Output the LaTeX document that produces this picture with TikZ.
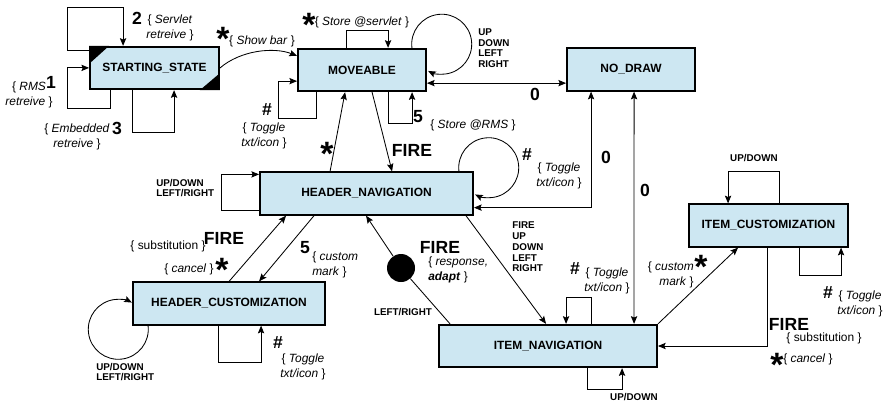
\documentclass[tikz,border=0pt]{standalone}
\usepackage{fontspec}
\setmainfont{Liberation Sans}
\usepackage{xcolor}
\usepackage{tikz}
\usetikzlibrary{arrows, arrows.meta, positioning, calc}
\definecolor{stateblue}{RGB}{205,231,242}
\tikzset{
  statebox/.style={
    rectangle,
    draw=black,
    line width=1.3pt,
    fill=stateblue,
    minimum height=1.06cm,
    inner sep=0pt,
    font=\fontsize{8.5}{10}\selectfont\bfseries
  },
  arrow/.style={
    ->,
    >={Stealth[length=5.5pt, width=4.5pt, inset=1pt]},
    line width=0.6pt
  },
  both/.style={
    <->,
    >={Stealth[length=5.5pt, width=4.5pt, inset=1pt]},
    line width=0.6pt
  },
  plain/.style={
    line width=0.6pt
  },
  evt/.style={
    font=\fontsize{12.5}{13}\selectfont\bfseries,
    inner sep=0pt
  },
  bigstar/.style={
    font=\fontsize{24}{24}\selectfont\bfseries,
    inner sep=0pt,
    anchor=base
  },
  keylbl/.style={
    font=\fontsize{7}{7.6}\selectfont\bfseries,
    align=left,
    inner sep=0pt
  },
  action/.style={
    font=\fontsize{8.5}{10.8}\selectfont,
    align=center,
    inner sep=0pt
  }
}

\begin{document}
\begin{tikzpicture}[x=0.025cm, y=-0.025cm]
  \useasboundingbox (0,0) rectangle (886,404);

  % --- STATES ---
  \node (start) [statebox, minimum width=3.225cm] at (154.5,68) {STARTING\_STATE};
  \node (move) [statebox, minimum width=3.2cm] at (362,70) {MOVEABLE};
  \node (nodraw) [statebox, minimum width=3.2cm] at (631,69.5) {NO\_DRAW};
  \node (hnav) [statebox, minimum width=5.325cm] at (366.5,193.5) {HEADER\_NAVIGATION};
  \node (hcust) [statebox, minimum width=4.8cm] at (229,303.5) {HEADER\_CUSTOMIZATION};
  \node (inav) [statebox, minimum width=5.45cm] at (548,346) {ITEM\_NAVIGATION};
  \node (icust) [statebox, minimum width=3.975cm] at (768.5,225.5) {ITEM\_CUSTOMIZATION};
  \node (dot) [circle, fill=black, minimum size=0.7cm, inner sep=0pt] at (401,268) {};

  \fill (start.north west) -- ++(20,0) -- ++(-20,18) -- cycle;
  \fill (start.south east) -- ++(-20,0) -- ++(20,-17) -- cycle;

  % --- STARTING_STATE ---
  \draw[arrow] ($(start.north west)+(0,5)$) -- ++(-22,0) -- ++(0,-43) -| ($(start.north west)+(34,0)$);
  \draw[arrow] ($(start.south west)+(21,0)$) -- ++(0,18) -- ++(-43,0) |- ($(start.north west)+(0,22)$);
  \draw[arrow] ($(start.south west)+(43,0)$) -- ++(0,42) -| ($(start.south west)+(85,0)$);
  \draw[arrow] (start.east) .. controls +(21,-18) and +(-23,-9) .. ($(move.north west)+(0,8)$);

  \node (n2) [evt] at (137,18) {2};
  \node (a2) [action] at (170,28) {\{ \textit{Servlet}\\\textit{retreive} \}};
  \node (n1) [evt] at (51,82) {1};
  \node (a1) [action] at (29,95) {\{ \textit{RMS}\\\textit{retreive} \}};
  \node (n3) [evt] at (117,128) {3};
  \node (a3) [action] at (77,137) {\{ \textit{Embedded}\\\textit{retreive} \}};
  \node (s1) [bigstar] at (223,50) {*};
  \node (a4) [action] at (262,41) {\{ \textit{Show bar} \}};

  % --- MOVEABLE ---
  \draw[arrow] ($(move.north west)+(49,0)$) -- ++(0,-17) -| ($(move.north west)+(91,0)$);
  \draw[arrow] ($(move.north east)+(-15,0)$) arc[start angle=173, end angle=477, radius=30];
  \draw[arrow] ($(move.south west)+(19,0)$) -- ++(0,26) -- ++(-38,0) |- ($(move.south west)+(0,-11)$);
  \draw[arrow] ($(move.south west)+(91,0)$) -- ++(0,31) -| ($(move.south west)+(115,0)$);
  \draw[both] ($(move.south east)+(0,-9)$) coordinate (m0) -- (m0 -| nodraw.west);

  \node (s2) [bigstar] at (309,36) {*};
  \node (a5) [action] at (362,22) {\{ \textit{Store @servlet} \}};
  \node (kmove) [keylbl, anchor=west] at (478,48) {UP\\DOWN\\LEFT\\RIGHT};
  \node (h1) [evt] at (267,110) {\#};
  \node (a6) [action] at (264,136) {\{ \textit{Toggle}\\\textit{txt/icon} \}};
  \node (n5) [evt] at (418,117) {5};
  \node (a7) [action] at (473,125) {\{ \textit{Store @RMS} \}};
  \node (z1) [evt] at (535,94) {0};

  % --- HEADER_NAVIGATION ---
  \draw[arrow] ($(hnav.north west)+(71,0)$) -- ($(move.south west)+(48,0)$);
  \draw[arrow] ($(move.south west)+(75,0)$) -- ($(hnav.north west)+(133,0)$);
  \draw[arrow] ($(hnav.north east)+(-15,0)$) arc[start angle=173, end angle=477, radius=30];
  \draw[both] ($(hnav.south east)+(0,-8)$) -| ($(nodraw.south west)+(25,0)$);
  \draw[both] ($(nodraw.south west)+(68,0)$) -- ($(inav.north west)+(196,0)$);
  \draw[arrow] ($(hnav.south east)+(-8,0)$) -- ($(inav.north west)+(108,0)$);
  \draw[arrow] ($(hnav.south west)+(0,-5)$) -- ++(-38,0) |- ($(hnav.north west)+(0,3)$);
  \draw[plain] ($(inav.north west)+(12,0)$) -- (dot);
  \draw[arrow] (dot) -- ($(hnav.south west)+(107,0)$);

  \node (s3) [bigstar] at (327,165) {*};
  \node (f1) [evt] at (412,150) {FIRE};
  \node (h2) [evt] at (527,155) {\#};
  \node (a8) [action] at (559,176) {\{ \textit{Toggle}\\\textit{txt/icon} \}};
  \node (z2) [evt] at (606,157) {0};
  \node (z3) [evt] at (645,190) {0};
  \node (khnav) [keylbl, anchor=west] at (156,188) {UP/DOWN\\LEFT/RIGHT};
  \node (kfire) [keylbl, anchor=west] at (512,247) {FIRE\\UP\\DOWN\\LEFT\\RIGHT};
  \node (f3) [evt] at (440,247) {FIRE};
  \node (a13) [action, align=left, anchor=west] at (428,270) {\{ \textit{response,}\\\textbf{\textit{adapt}} \}};
  \node (klr) [keylbl] at (403,312) {LEFT/RIGHT};

  % --- HEADER_CUSTOMIZATION ---
  \draw[arrow] ($(hcust.north west)+(97,0)$) -- ($(hnav.south west)+(27,0)$);
  \draw[arrow] ($(hnav.south west)+(55,0)$) -- ($(hcust.north west)+(127,0)$);
  \draw[arrow] ($(hcust.south west)+(16,0)$) arc[start angle=-7, end angle=297, radius=30];
  \draw[arrow] ($(hcust.south west)+(86,0)$) -- ++(0,37) -| ($(hcust.south west)+(129,0)$);

  \node (f2) [evt] at (224,238) {FIRE};
  \node (a9) [action] at (168,246) {\{ substitution \}};
  \node (s4) [bigstar] at (222,281) {*};
  \node (a10) [action] at (189,269) {\{ \textit{cancel} \}};
  \node (n5b) [evt] at (305,248) {5};
  \node (a11) [action, align=left, anchor=west] at (312,265) {\{ \textit{custom}\\\textit{mark} \}};
  \node (h3) [evt] at (278,343) {\#};
  \node (a12) [action] at (303,367) {\{ \textit{Toggle}\\\textit{txt/icon} \}};
  \node (khcust) [keylbl, anchor=west] at (96,372) {UP/DOWN\\LEFT/RIGHT};

  % --- ITEM_NAVIGATION / ITEM_CUSTOMIZATION ---
  \draw[arrow] ($(inav.north west)+(153,0)$) -- ++(0,-26) -| ($(inav.north west)+(128,0)$);
  \draw[arrow] ($(inav.south west)+(149,0)$) -- ++(0,21) -| ($(inav.south west)+(184,0)$);
  \draw[arrow] (inav.north east) -- ($(icust.south west)+(50,0)$);
  \draw[arrow] ($(icust.north west)+(91,0)$) -- ++(0,-32) -| ($(icust.north west)+(40,0)$);
  \draw[arrow] ($(icust.south west)+(111,0)$) -- ++(0,28) -| ($(icust.south west)+(153,0)$);
  \draw[arrow] ($(icust.south west)+(79,0)$) |- (inav.east);

  \node (h4) [evt] at (575,269) {\#};
  \node (a14) [action] at (607,281) {\{ \textit{Toggle}\\\textit{txt/icon} \}};
  \node (kinav) [keylbl] at (634,397) {UP/DOWN};
  \node (kicust) [keylbl] at (754,158) {UP/DOWN};
  \node (s5) [bigstar] at (701,278) {*};
  \node (a15) [action, align=right, anchor=east] at (694,275) {\{ \textit{custom}\\\textit{mark} \}};
  \node (h5) [evt] at (828,293) {\#};
  \node (a16) [action] at (860,304) {\{ \textit{Toggle}\\\textit{txt/icon} \}};
  \node (f4) [evt] at (789,324) {FIRE};
  \node (a17) [action] at (824,338) {\{ substitution \}};
  \node (s6) [bigstar] at (777,376) {*};
  \node (a18) [action] at (808,359) {\{ \textit{cancel} \}};

\end{tikzpicture}
\end{document}
